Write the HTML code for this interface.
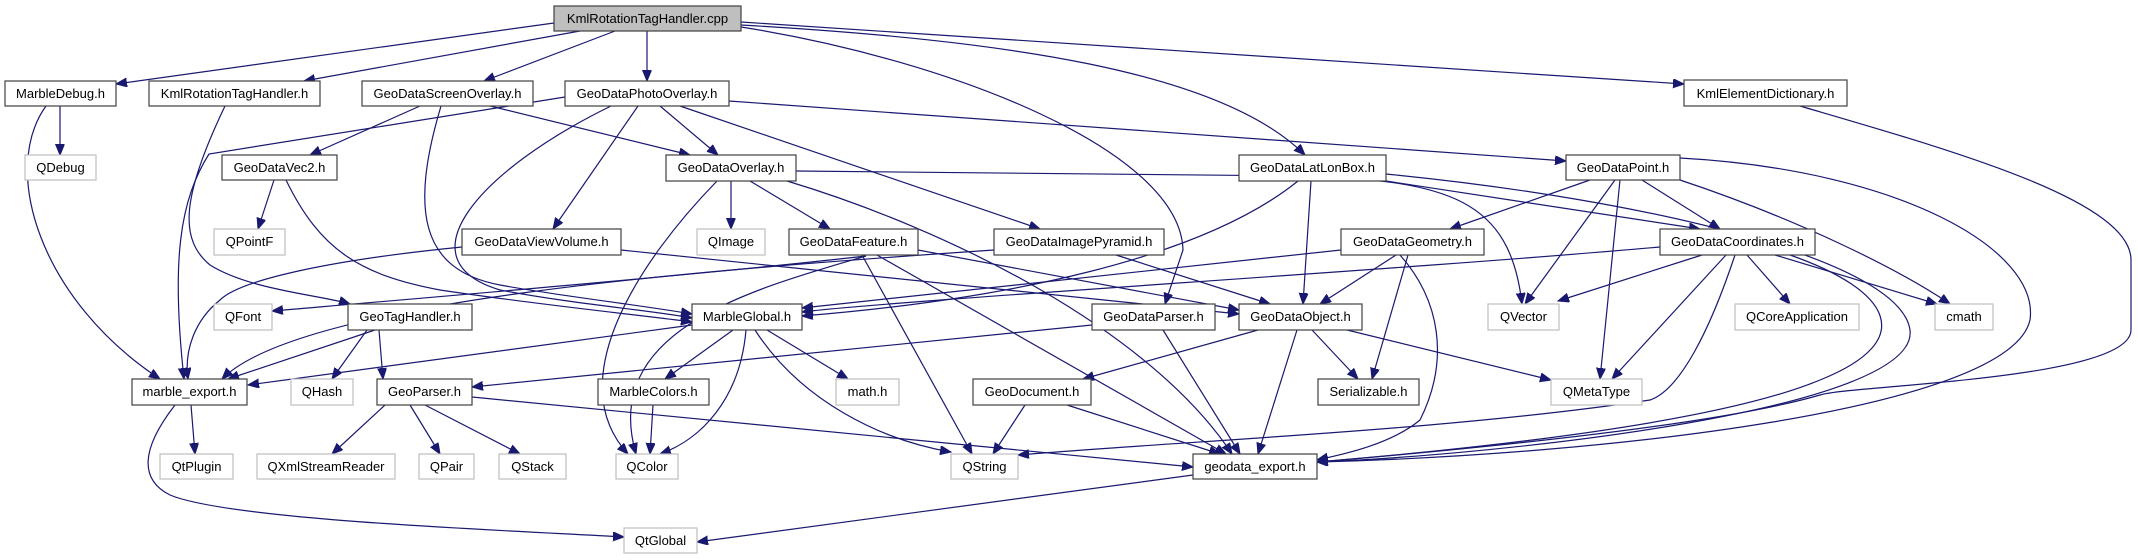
<!DOCTYPE html>
<html><head><meta charset="utf-8"><style>
html,body{margin:0;padding:0;background:#fff;}
svg{display:block;}
text{font-family:"Liberation Sans",Arial,sans-serif;font-size:13px;fill:#000;}
.n rect{fill:#fff;stroke:#404040;stroke-width:1.2;}
.g rect{fill:#fff;stroke:#bfbfbf;stroke-width:1.2;}
.e path{fill:none;stroke:#191970;stroke-width:1.2;marker-end:url(#a);}
</style></head><body>
<svg width="2138" height="560" viewBox="0 0 2138 560" xmlns="http://www.w3.org/2000/svg">
<defs><marker id="a" markerUnits="userSpaceOnUse" markerWidth="12" markerHeight="10" refX="11" refY="4.5" orient="auto"><path d="M0,0 L11,4.5 L0,9 z" fill="#191970" stroke="#191970"/></marker></defs>
<g class="e">
<path d="M554,23 L116,84"/>
<path d="M580,31 L304,81"/>
<path d="M615,31 L484,81"/>
<path d="M647,31 L647,81"/>
<path d="M741,27 C950,60 1180,150 1183,250 L1165,304"/>
<path d="M741,25 C1000,40 1220,70 1305,155"/>
<path d="M741,22 L1684,84"/>
<path d="M60,106 L60,155"/>
<path d="M46,106 C0,170 40,300 160,379"/>
<path d="M225,106 C180,200 180,240 210,265 C250,290 320,295 350,304"/>
<path d="M420,106 L310,155"/>
<path d="M490,106 L690,155"/>
<path d="M441,106 C410,210 420,270 500,285 C560,296 640,305 692,314"/>
<path d="M565,97 L209,154 C180,200 171,260 184,379"/>
<path d="M611,106 C480,170 400,260 500,290 C580,305 650,310 692,318"/>
<path d="M638,106 L553,229"/>
<path d="M660,106 L718,155"/>
<path d="M680,106 L1040,229"/>
<path d="M729,101 L1566,161"/>
<path d="M274,180 L258,229"/>
<path d="M286,180 C320,250 360,275 440,290 C540,305 640,315 692,322"/>
<path d="M462,247 C330,260 240,280 220,300 C195,320 184,350 188,379"/>
<path d="M621,250 L1239,314"/>
<path d="M731,181 L731,229"/>
<path d="M750,181 L830,229"/>
<path d="M717,181 C640,260 560,380 628,454"/>
<path d="M787,181 C950,230 1150,330 1232,454"/>
<path d="M796,171 L1300,176 C1450,180 1510,200 1522,304"/>
<path d="M994,250 C700,270 300,300 222,379"/>
<path d="M866,256 C700,275 400,300 272,311"/>
<path d="M866,256 C750,290 600,330 636,454"/>
<path d="M862,255 L972,454"/>
<path d="M877,255 L1226,454"/>
<path d="M918,250 L1239,310"/>
<path d="M1116,255 L1270,304"/>
<path d="M1298,181 C1200,260 1000,300 802,316"/>
<path d="M1311,181 L1303,304"/>
<path d="M1386,181 L1700,229"/>
<path d="M1386,174 C1650,200 1900,260 1910,330 C1920,410 1500,455 1317,462"/>
<path d="M1680,158 C1900,170 2040,250 2030,320 C2010,410 1600,455 1317,462"/>
<path d="M1800,106 C1950,150 2131,200 2131,260 L2131,330 C2131,380 1850,385 1820,395 C1700,430 1400,455 1317,462"/>
<path d="M1790,255 C1890,290 1920,340 1820,380 C1700,430 1400,455 1317,462"/>
<path d="M1735,255 C1710,330 1680,390 1650,400 C1450,430 1200,440 1018,455"/>
<path d="M1400,255 C1440,300 1450,360 1420,420 C1390,445 1340,455 1317,460"/>
<path d="M1590,180 L1450,229"/>
<path d="M1615,180 L1525,304"/>
<path d="M1620,180 L1600,379"/>
<path d="M1642,180 L1720,229"/>
<path d="M1680,180 C1800,220 1900,270 1950,304"/>
<path d="M1660,247 C1400,270 900,300 802,312"/>
<path d="M1702,255 L1558,301"/>
<path d="M1726,255 L1612,379"/>
<path d="M1747,255 L1790,304"/>
<path d="M1775,255 L1937,304"/>
<path d="M1341,250 L802,308"/>
<path d="M1396,255 L1320,304"/>
<path d="M1408,255 L1372,379"/>
<path d="M1258,330 L1083,379"/>
<path d="M1297,330 L1258,454"/>
<path d="M1312,330 L1358,379"/>
<path d="M1347,330 L1551,380"/>
<path d="M1092,325 L472,387"/>
<path d="M1163,330 L1240,454"/>
<path d="M1025,405 L993,454"/>
<path d="M1067,405 L1220,454"/>
<path d="M692,325 L248,385"/>
<path d="M733,330 L665,379"/>
<path d="M746,330 C740,400 700,440 660,454"/>
<path d="M755,330 C800,400 880,440 951,452"/>
<path d="M767,330 L848,379"/>
<path d="M653,405 L650,454"/>
<path d="M375,330 L228,379"/>
<path d="M367,330 L332,379"/>
<path d="M379,330 L383,379"/>
<path d="M385,405 L332,454"/>
<path d="M410,405 L440,454"/>
<path d="M425,405 L520,454"/>
<path d="M472,397 L1193,467"/>
<path d="M191,405 L195,454"/>
<path d="M175,405 C140,450 140,480 170,495 C230,520 500,530 624,537"/>
<path d="M1193,475 L697,542"/>
</g>
<g>
<g><rect x="554" y="6" width="187" height="25" fill="#bfbfbf" stroke="#404040" stroke-width="1.2"/><text x="647.5" y="23" text-anchor="middle">KmlRotationTagHandler.cpp</text></g>
</g>
<g class="n">
<rect x="5" y="81" width="111" height="25"/><text x="60.5" y="98" text-anchor="middle">MarbleDebug.h</text>
<rect x="149" y="81" width="171" height="25"/><text x="234.5" y="98" text-anchor="middle">KmlRotationTagHandler.h</text>
<rect x="362" y="81" width="171" height="25"/><text x="447.5" y="98" text-anchor="middle">GeoDataScreenOverlay.h</text>
<rect x="565" y="81" width="164" height="25"/><text x="647" y="98" text-anchor="middle">GeoDataPhotoOverlay.h</text>
<rect x="1684" y="80" width="163" height="26"/><text x="1765.5" y="98" text-anchor="middle">KmlElementDictionary.h</text>
<rect x="222" y="155" width="115" height="25"/><text x="279.5" y="172" text-anchor="middle">GeoDataVec2.h</text>
<rect x="666" y="155" width="130" height="26"/><text x="731" y="172" text-anchor="middle">GeoDataOverlay.h</text>
<rect x="1239" y="155" width="147" height="26"/><text x="1312.5" y="172" text-anchor="middle">GeoDataLatLonBox.h</text>
<rect x="1566" y="155" width="114" height="25"/><text x="1623" y="172" text-anchor="middle">GeoDataPoint.h</text>
<rect x="462" y="229" width="159" height="26"/><text x="541.5" y="246" text-anchor="middle">GeoDataViewVolume.h</text>
<rect x="789" y="229" width="129" height="26"/><text x="853.5" y="246" text-anchor="middle">GeoDataFeature.h</text>
<rect x="994" y="229" width="170" height="26"/><text x="1079" y="246" text-anchor="middle">GeoDataImagePyramid.h</text>
<rect x="1341" y="229" width="143" height="26"/><text x="1412.5" y="246" text-anchor="middle">GeoDataGeometry.h</text>
<rect x="1660" y="229" width="155" height="26"/><text x="1737.5" y="246" text-anchor="middle">GeoDataCoordinates.h</text>
<rect x="348" y="304" width="124" height="26"/><text x="410" y="321" text-anchor="middle">GeoTagHandler.h</text>
<rect x="692" y="304" width="110" height="26"/><text x="747" y="321" text-anchor="middle">MarbleGlobal.h</text>
<rect x="1092" y="304" width="123" height="26"/><text x="1153.5" y="321" text-anchor="middle">GeoDataParser.h</text>
<rect x="1239" y="304" width="123" height="26"/><text x="1300.5" y="321" text-anchor="middle">GeoDataObject.h</text>
<rect x="132" y="379" width="115" height="26"/><text x="189.5" y="396" text-anchor="middle">marble_export.h</text>
<rect x="377" y="379" width="95" height="26"/><text x="424.5" y="396" text-anchor="middle">GeoParser.h</text>
<rect x="598" y="379" width="111" height="26"/><text x="653.5" y="396" text-anchor="middle">MarbleColors.h</text>
<rect x="973" y="379" width="118" height="26"/><text x="1032" y="396" text-anchor="middle">GeoDocument.h</text>
<rect x="1318" y="379" width="101" height="26"/><text x="1368.5" y="396" text-anchor="middle">Serializable.h</text>
<rect x="1193" y="454" width="124" height="25"/><text x="1255" y="471" text-anchor="middle">geodata_export.h</text>
</g>
<g class="g">
<rect x="25" y="155" width="71" height="25"/><text x="60.5" y="172" text-anchor="middle">QDebug</text>
<rect x="214" y="229" width="71" height="26"/><text x="249.5" y="246" text-anchor="middle">QPointF</text>
<rect x="697" y="229" width="68" height="26"/><text x="731" y="246" text-anchor="middle">QImage</text>
<rect x="214" y="304" width="58" height="26"/><text x="243" y="321" text-anchor="middle">QFont</text>
<rect x="1488" y="304" width="71" height="26"/><text x="1523.5" y="321" text-anchor="middle">QVector</text>
<rect x="1735" y="304" width="124" height="26"/><text x="1797" y="321" text-anchor="middle">QCoreApplication</text>
<rect x="1935" y="304" width="58" height="26"/><text x="1964" y="321" text-anchor="middle">cmath</text>
<rect x="291" y="379" width="62" height="26"/><text x="322" y="396" text-anchor="middle">QHash</text>
<rect x="836" y="379" width="63" height="26"/><text x="867.5" y="396" text-anchor="middle">math.h</text>
<rect x="1551" y="379" width="91" height="26"/><text x="1596.5" y="396" text-anchor="middle">QMetaType</text>
<rect x="160" y="454" width="73" height="25"/><text x="196.5" y="471" text-anchor="middle">QtPlugin</text>
<rect x="257" y="454" width="138" height="25"/><text x="326" y="471" text-anchor="middle">QXmlStreamReader</text>
<rect x="419" y="454" width="55" height="25"/><text x="446.5" y="471" text-anchor="middle">QPair</text>
<rect x="499" y="454" width="67" height="25"/><text x="532.5" y="471" text-anchor="middle">QStack</text>
<rect x="616" y="454" width="62" height="25"/><text x="647" y="471" text-anchor="middle">QColor</text>
<rect x="951" y="454" width="67" height="25"/><text x="984.5" y="471" text-anchor="middle">QString</text>
<rect x="624" y="528" width="73" height="25"/><text x="660.5" y="545" text-anchor="middle">QtGlobal</text>
</g>
</svg>
</body></html>
